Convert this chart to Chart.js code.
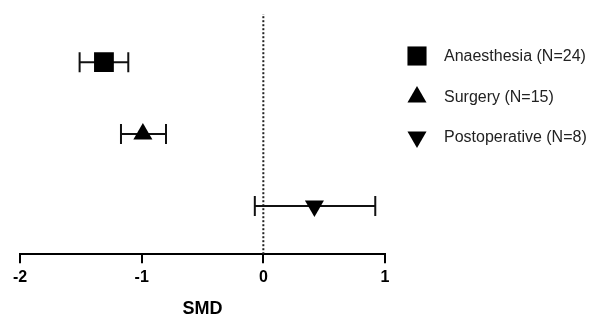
<!DOCTYPE html>
<html>
<head>
<meta charset="utf-8">
<script src="https://cdn.jsdelivr.net/npm/chart.js@4/dist/chart.umd.min.js"></script>
<style>
  html, body { margin: 0; padding: 0; background: #fff; }
</style>
</head>
<body>
<canvas id="forest" width="590" height="320"></canvas>
<script>
var groups = ["Anaesthesia (N=24)", "Surgery (N=15)", "Postoperative (N=8)"];
var smd = [-1.31, -0.99, 0.42];
var ciLow = [-1.51, -1.17, -0.07];
var ciHigh = [-1.11, -0.80, 0.92];
var rows = [3, 2, 1];
var markers = ["rect", "triangle", "triangle"];
var markerTurn = [0, 0, 180];
var markerSize = [14, 11, 11];
var xMin = -2, xMax = 1;
var yMin = 0.33, yMax = 3.67;

var font = 'Arial, "Liberation Sans", Helvetica, sans-serif';

var datasets = [];
// the group points
groups.forEach(function (g, i) {
   datasets.push({
      label: g,
      data: [{ x: smd[i], y: rows[i] }],
      pointStyle: markers[i],
      rotation: markerTurn[i],
      pointRadius: markerSize[i],
      backgroundColor: "#000",
      borderColor: "#000",
      borderWidth: 0
   });
});
// confidence intervals with caps
groups.forEach(function (g, i) {
   datasets.push({
      label: "ci",
      data: [{ x: ciLow[i], y: rows[i] }, { x: ciHigh[i], y: rows[i] }],
      showLine: true,
      borderColor: "#111",
      borderWidth: 2,
      pointStyle: "line",
      rotation: 90,
      pointRadius: 10,
      pointBorderColor: "#111",
      pointBorderWidth: 2
   });
});
// no effect line
datasets.push({
   label: "zero",
   data: [{ x: 0, y: yMin }, { x: 0, y: yMax }],
   showLine: true,
   borderColor: "#222",
   borderWidth: 2,
   borderDash: [2, 2],
   pointRadius: 0
});

var sideLegend = {
   id: "sideLegend",
   afterDraw: function (chart) {
      var ctx = chart.ctx;
      var ys = [56, 97, 137];
      ctx.save();
      groups.forEach(function (g, i) {
         ctx.fillStyle = "#000";
         ctx.strokeStyle = "#000";
         Chart.helpers.drawPoint(ctx, {
            pointStyle: markers[i],
            rotation: markerTurn[i],
            radius: markers[i] == "rect" ? 13.5 : 11,
            borderWidth: 0
         }, 417, ys[i]);
         ctx.fillStyle = "#222";
         ctx.font = "16px " + font;
         ctx.textBaseline = "middle";
         ctx.textAlign = "left";
         ctx.fillText(g, 444, ys[i] + 1);
      });
      ctx.restore();
   }
};

new Chart(document.getElementById("forest"), {
   type: "scatter",
   data: { datasets: datasets },
   plugins: [sideLegend],
   options: {
      responsive: false,
      animation: false,
      layout: { padding: { left: 20, right: 205, top: 10, bottom: 0 } },
      plugins: {
         legend: { display: false },
         tooltip: { enabled: false }
      },
      scales: {
         x: {
            type: "linear",
            min: xMin,
            max: xMax,
            grid: {
               drawOnChartArea: false,
               drawTicks: true,
               tickLength: 9,
               color: "#000",
               lineWidth: 2
            },
            border: { color: "#000", width: 2 },
            ticks: {
               stepSize: 1,
               padding: 5,
               color: "#000",
               font: { family: font, size: 16, weight: "bold" }
            },
            title: {
               display: true,
               text: "SMD",
               color: "#000",
               padding: { top: 6, bottom: 0 },
               font: { family: font, size: 18, weight: "bold" }
            }
         },
         y: {
            type: "linear",
            min: yMin,
            max: yMax,
            display: false
         }
      }
   }
});
</script>
</body>
</html>
